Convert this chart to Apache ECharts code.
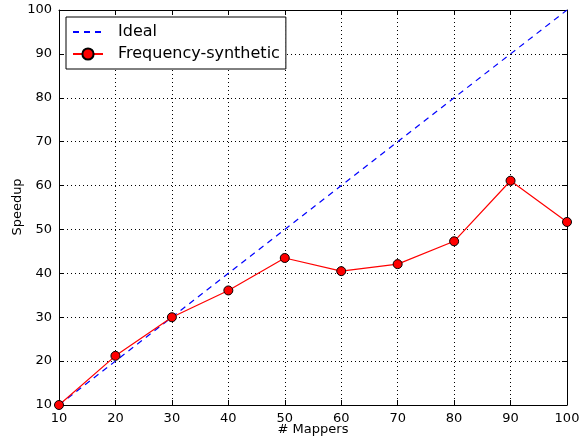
<!DOCTYPE html>
<html>
<head>
<meta charset="utf-8">
<script src="https://cdn.jsdelivr.net/npm/echarts@6/dist/echarts.min.js"></script>
<style>
   html, body { margin: 0; padding: 0; background: #fff; }
   #chart { width: 586px; height: 440px; }
</style>
</head>
<body>
<div id="chart"></div>
<script>
// mappers on x, speedup on y
const mappers = [10, 20, 30, 40, 50, 60, 70, 80, 90, 100];
const ideal = [10, 20, 30, 40, 50, 60, 70, 80, 90, 100];
const freqSynthetic = [10, 21.2, 30, 36.1, 43.5, 40.5, 42.1, 47.3, 61.1, 51.7];

const font = 'DejaVu Sans';

function pairs(xs, ys) {
   return xs.map((x, i) => [x, ys[i]]);
}

function boxAxis(pos, showLabel) {
   return {
      type: 'value',
      position: pos,
      min: 10,
      max: 100,
      interval: 10,
      axisLine: { show: true, onZero: false, lineStyle: { color: '#000', width: 1 } },
      axisTick: { show: true, inside: true, length: 5, lineStyle: { color: '#000' } },
      axisLabel: {
         show: showLabel,
         color: '#000',
         fontFamily: font,
         fontSize: 13,
         margin: 7
      },
      splitLine: { show: false }
   };
}

const dotted = { show: true, lineStyle: { color: '#000', type: [1, 3], width: 1 } };

const xMain = boxAxis('bottom', true);
xMain.splitLine = dotted;

const yMain = boxAxis('left', true);
yMain.splitLine = dotted;

echarts.init(document.getElementById('chart')).setOption({
   animation: false,
   backgroundColor: '#fff',
   grid: { left: 59, right: 19, top: 10, bottom: 35, containLabel: false, outerBoundsMode: 'none' },
   xAxis: [xMain, boxAxis('top', false)],
   yAxis: [yMain, boxAxis('right', false)],
   // axis titles
   graphic: [
      {
         type: 'text',
         x: 313,
         y: 430,
         style: { text: '# Mappers', fill: '#000', font: '13px "DejaVu Sans"', align: 'center', verticalAlign: 'middle' }
      },
      {
         type: 'text',
         x: 18,
         y: 207,
         rotation: Math.PI / 2,
         style: { text: 'Speedup', fill: '#000', font: '13px "DejaVu Sans"', align: 'center', verticalAlign: 'middle' }
      }
   ],
   legend: {
      orient: 'vertical',
      left: 66,
      top: 17,
      width: 220,
      padding: [7, 6, 7, 6],
      itemGap: 6,
      itemWidth: 30,
      itemHeight: 14,
      borderColor: '#000',
      borderWidth: 1,
      backgroundColor: '#fff',
      textStyle: { color: '#000', fontFamily: font, fontSize: 16, padding: [0, 0, 0, 10] },
      data: [
         { name: 'Ideal', itemStyle: { opacity: 0 } },
         'Frequency-synthetic'
      ]
   },
   series: [
      {
         name: 'Ideal',
         type: 'line',
         data: pairs(mappers, ideal),
         symbol: 'none',
         color: '#0000ff',
         lineStyle: { color: '#0000ff', width: 1.2, type: [6, 5] },
         z: 3
      },
      {
         name: 'Frequency-synthetic',
         type: 'line',
         data: pairs(mappers, freqSynthetic),
         symbol: 'circle',
         symbolSize: 9,
         color: '#ff0000',
         lineStyle: { color: '#ff0000', width: 1.2 },
         itemStyle: { color: '#ff0000', borderColor: '#000', borderWidth: 1 },
         z: 4
      }
   ]
});
</script>
</body>
</html>
